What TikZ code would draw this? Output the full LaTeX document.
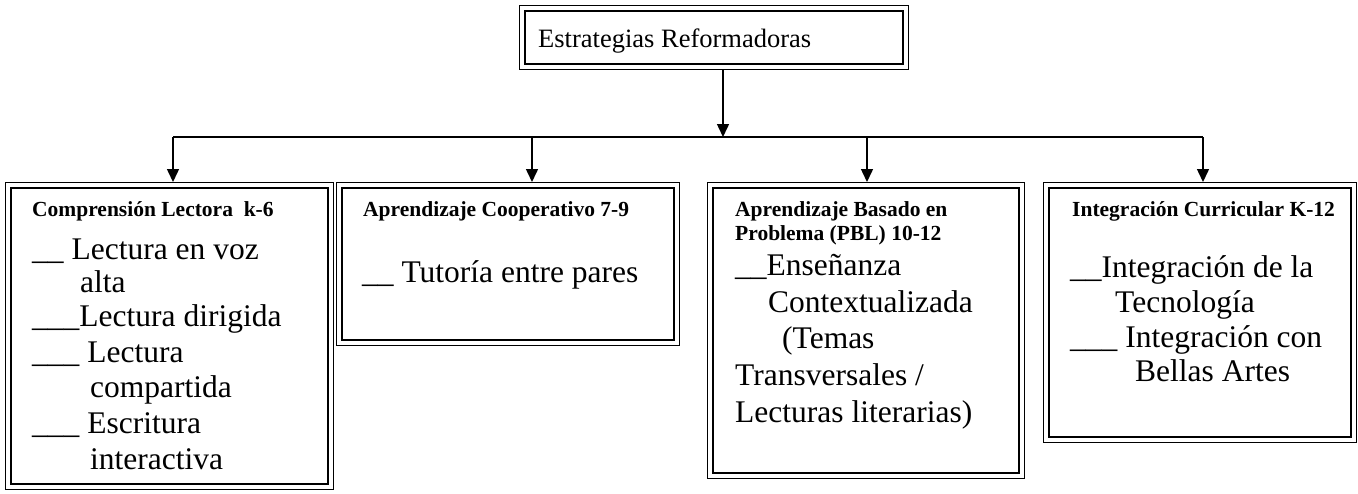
\documentclass[tikz,border=0pt]{standalone}
\usepackage{fontspec}
\setmainfont{Liberation Serif}
\usetikzlibrary{arrows.meta}
\begin{document}
\begin{tikzpicture}[x=1pt,y=-1pt,
  frameout/.style={draw, line width=1.2pt, inner sep=0pt, anchor=north west},
  framein/.style={draw, line width=2.6pt, inner sep=0pt},
  conn/.style={line width=1.5pt},
  arr/.style={conn, -{Triangle[width=12pt,length=13pt]}},
  head/.style={anchor=base west, inner sep=0pt, font=\fontsize{21.5}{24}\selectfont\bfseries},
  itm/.style={anchor=base west, inner sep=0pt, font=\fontsize{31.5}{35}\selectfont},
  ttl/.style={anchor=base west, inner sep=0pt, font=\fontsize{26.5}{30}\selectfont}]
\useasboundingbox (0,0) rectangle (1358,493);

% frames
\node[frameout, minimum width=389pt, minimum height=64pt] (top) at (519,5) {};
\node[framein, minimum width=378pt, minimum height=53pt] (topi) at (top.center) {};
\node[frameout, minimum width=328pt, minimum height=307pt] (b1) at (5,182) {};
\node[framein, minimum width=317pt, minimum height=296pt] (b1i) at (b1.center) {};
\node[frameout, minimum width=343pt, minimum height=163pt] (b2) at (336,182) {};
\node[framein, minimum width=332pt, minimum height=152pt] (b2i) at (b2.center) {};
\node[frameout, minimum width=317pt, minimum height=296pt] (b3) at (707,182) {};
\node[framein, minimum width=306pt, minimum height=285pt] (b3i) at (b3.center) {};
\node[frameout, minimum width=313pt, minimum height=260pt] (b4) at (1043,182) {};
\node[framein, minimum width=302pt, minimum height=249pt] (b4i) at (b4.center) {};

% connectors
\coordinate (j) at (723,137);
\coordinate (d1) at (173,137);
\coordinate (d2) at (532,137);
\coordinate (d3) at (867,137);
\coordinate (d4) at (1203,137);
\draw[arr] (top.south -| j) -- (j);
\draw[conn] (d1) -- (d4);
\draw[arr] (d1) -- (d1 |- b1.north);
\draw[arr] (d2) -- (d2 |- b2.north);
\draw[arr] (d3) -- (d3 |- b3.north);
\draw[arr] (d4) -- (d4 |- b4.north);

% texts
\node[ttl] (tt) at (538,47) {Estrategias Reformadoras};

\node[head] (h1) at (32,216) {Comprensión Lectora\ \ k-6};
\node[itm] (a1) at (32,259) {\_\_ Lectura en voz};
\node[itm] (a2) at (80,292) {alta};
\node[itm] (a3) at (32,326) {\_\_\_Lectura dirigida};
\node[itm] (a4) at (32,362) {\_\_\_ Lectura};
\node[itm] (a5) at (90,397) {compartida};
\node[itm] (a6) at (32,433) {\_\_\_ Escritura};
\node[itm] (a7) at (90,469) {interactiva};

\node[head] (h2) at (363,216) {Aprendizaje Cooperativo 7-9};
\node[itm] (c1) at (362,282) {\_\_ Tutoría entre pares};

\node[head] (h3a) at (735,216) {Aprendizaje Basado en};
\node[head] (h3b) at (735,240) {Problema (PBL) 10-12};
\node[itm] (e1) at (735,275) {\_\_Enseñanza};
\node[itm] (e2) at (768,312) {Contextualizada};
\node[itm] (e3) at (782,348) {(Temas};
\node[itm] (e4) at (735,385) {Transversales /};
\node[itm] (e5) at (735,422) {Lecturas literarias)};

\node[head] (h4) at (1072,216) {Integración Curricular K-12};
\node[itm] (f1) at (1070,277) {\_\_Integración de la};
\node[itm] (f2) at (1115,312) {Tecnología};
\node[itm] (f3) at (1070,347) {\_\_\_ Integración con};
\node[itm] (f4) at (1135,381) {Bellas Artes};
\end{tikzpicture}
\end{document}
